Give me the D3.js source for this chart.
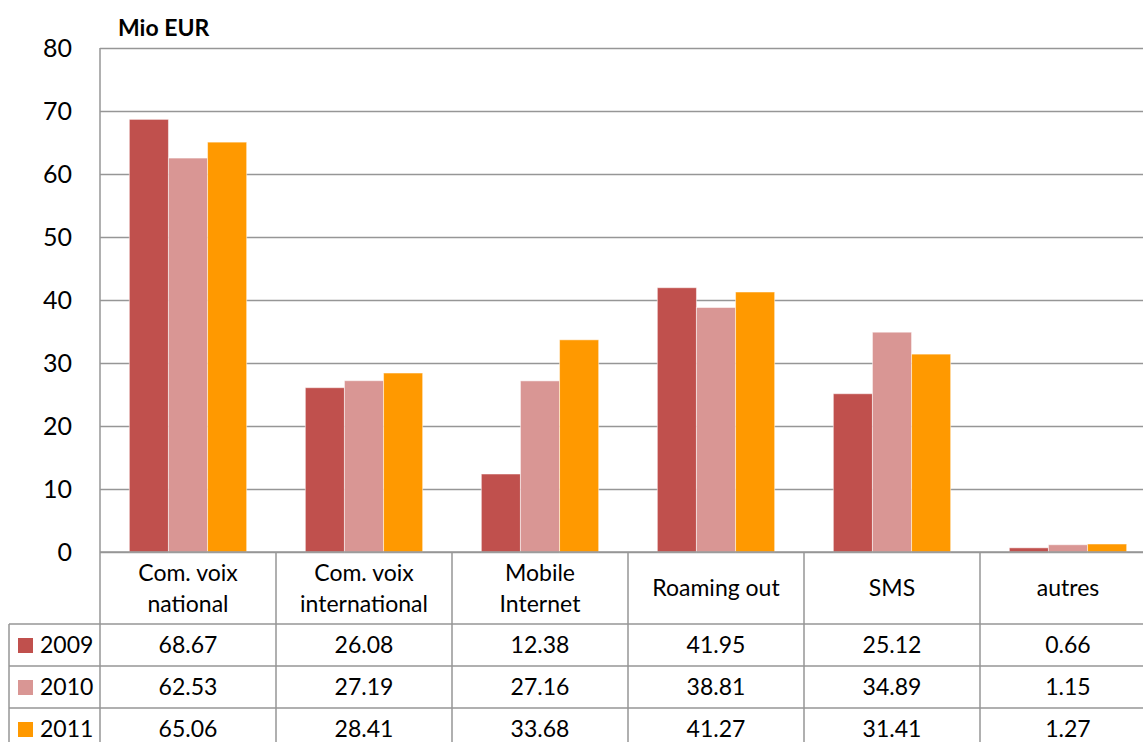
<!DOCTYPE html>
<html>
<head>
<meta charset="utf-8">
<script src="https://cdn.jsdelivr.net/npm/d3@7"></script>
<style>
  html, body { margin: 0; padding: 0; background: #fff; overflow: hidden; }
  svg { display: block; font-family: Lato, "Open Sans", sans-serif; }
</style>
</head>
<body>
<div id="chart"></div>
<script>
// categories and values
const categories = ["Com. voix national", "Com. voix international", "Mobile Internet", "Roaming out", "SMS", "autres"];
const categoryLines = [["Com. voix", "national"], ["Com. voix", "international"], ["Mobile", "Internet"], ["Roaming out"], ["SMS"], ["autres"]];
const years = ["2009", "2010", "2011"];
const values2009 = [68.67, 26.08, 12.38, 41.95, 25.12, 0.66];
const values2010 = [62.53, 27.19, 27.16, 38.81, 34.89, 1.15];
const values2011 = [65.06, 28.41, 33.68, 41.27, 31.41, 1.27];
const yTicks = [0, 10, 20, 30, 40, 50, 60, 70, 80];
const colors = ["#C0504D", "#D99694", "#FF9900"];

const series = [values2009, values2010, values2011];

const width = 1143, height = 742;
const plot = { left: 100, right: 1156, top: 48, bottom: 552 };
const rowH = 42, headerBottom = 624, legendLeft = 9;
const tableFont = 23;

const svg = d3.select("#chart").append("svg")
    .attr("width", width)
    .attr("height", height);

const x = d3.scaleBand().domain(categories).range([plot.left, plot.right]);
const xInner = d3.scaleBand().domain(years).range([0, x.bandwidth()])
    .paddingInner(0).paddingOuter(0.75);
const y = d3.scaleLinear().domain([0, 80]).range([plot.bottom, plot.top]);
const color = d3.scaleOrdinal().domain(years).range(colors);

// gridlines
const grid = svg.append("g")
    .attr("transform", `translate(${plot.left},0)`)
    .call(d3.axisLeft(y).tickValues(yTicks).tickSize(-(plot.right - plot.left)).tickFormat(""));
grid.select(".domain").remove();
grid.selectAll("line").attr("stroke", "#969696").attr("stroke-width", 1.5);

// bars
const groups = svg.append("g").selectAll("g")
    .data(categories)
    .join("g")
    .attr("transform", d => `translate(${x(d)},0)`);

groups.selectAll("rect")
    .data((d, i) => years.map((yr, j) => ({ year: yr, value: series[j][i] })))
    .join("rect")
    .attr("x", d => xInner(d.year))
    .attr("y", d => y(d.value))
    .attr("width", xInner.bandwidth())
    .attr("height", d => y(0) - y(d.value))
    .attr("fill", d => color(d.year))
    .attr("stroke", "#fff")
    .attr("stroke-opacity", 0.5)
    .attr("stroke-width", 1);

// y axis
const yAxis = svg.append("g")
    .attr("transform", `translate(${plot.left},0)`)
    .call(d3.axisLeft(y).tickValues(yTicks).tickSize(0).tickPadding(28).tickFormat(d3.format("d")));
yAxis.select(".domain").attr("stroke", "#969696").attr("stroke-width", 1.5)
    .attr("d", `M0,${plot.top}V${height}`);
yAxis.selectAll("text")
    .attr("font-size", 25)
    .attr("fill", "#000")
    .attr("font-family", "Lato, sans-serif");

// unit label
svg.append("text")
    .attr("x", 118)
    .attr("y", 36)
    .attr("font-size", 23)
    .attr("font-weight", "bold")
    .text("Mio EUR");

// data table
const table = svg.append("g");
const lineStyle = sel => sel.attr("stroke", "#969696").attr("stroke-width", 1.5);

// x axis line (top of header)
table.append("line").call(lineStyle)
    .attr("x1", plot.left).attr("x2", plot.right)
    .attr("y1", plot.bottom).attr("y2", plot.bottom);

// row lines
years.forEach((yr, i) => {
    const yy = headerBottom + i * rowH;
    table.append("line").call(lineStyle)
        .attr("x1", legendLeft).attr("x2", plot.right)
        .attr("y1", yy).attr("y2", yy);
});

// column lines
categories.forEach(c => {
    table.append("line").call(lineStyle)
        .attr("x1", x(c) + x.bandwidth()).attr("x2", x(c) + x.bandwidth())
        .attr("y1", plot.bottom).attr("y2", height);
});
table.append("line").call(lineStyle)
    .attr("x1", legendLeft).attr("x2", legendLeft)
    .attr("y1", headerBottom).attr("y2", height);

// header labels
categories.forEach((c, i) => {
    const lines = categoryLines[i];
    const cy = (plot.bottom + headerBottom) / 2;
    const lh = 31;
    const t = table.append("text")
        .attr("text-anchor", "middle")
        .attr("font-size", tableFont)
        .attr("fill", "#000");
    lines.forEach((ln, k) => {
        t.append("tspan")
            .attr("x", x(c) + x.bandwidth() / 2)
            .attr("y", cy + (k - (lines.length - 1) / 2) * lh)
            .attr("dy", "0.36em")
            .text(ln);
    });
});

// value rows with legend keys
years.forEach((yr, j) => {
    const cy = headerBottom + j * rowH + rowH / 2;
    table.append("rect")
        .attr("x", 18).attr("y", cy - 7)
        .attr("width", 15).attr("height", 15)
        .attr("fill", color(yr));
    table.append("text")
        .attr("x", 40).attr("y", cy).attr("dy", "0.36em")
        .attr("font-size", tableFont)
        .text(yr);
    categories.forEach((c, i) => {
        table.append("text")
            .attr("x", x(c) + x.bandwidth() / 2)
            .attr("y", cy).attr("dy", "0.36em")
            .attr("text-anchor", "middle")
            .attr("font-size", tableFont)
            .text(d3.format(".2f")(series[j][i]));
    });
});
</script>
</body>
</html>
